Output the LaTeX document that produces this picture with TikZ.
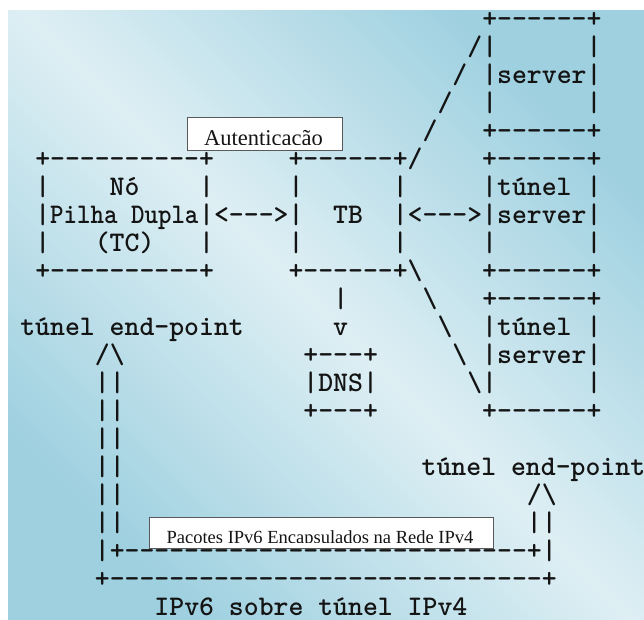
\documentclass[tikz,border=0pt]{standalone}
\usepackage{fontspec}
\newfontfamily\lblfont{Liberation Serif}
% bold typewriter face for the ASCII drawing
\newcommand\asc{\fontfamily{lmtt}\bfseries\fontsize{28.38}{28}\selectfont}
% repeat a group of tokens n times
\newcommand\rep[2]{\ifnum#1>0 #2\expandafter\rep\expandafter{\the\numexpr#1-1\relax}{#2}\fi}
\newcommand\hy[1]{\rep{#1}{-{}}}
\newcommand\sk[1]{\rep{#1}{~}}
\newcommand\bs{\textbackslash}
\definecolor{bgdark}{RGB}{158,208,224}
\definecolor{bglight}{RGB}{222,239,244}
\definecolor{ink}{RGB}{20,20,20}

\begin{document}
\begin{tikzpicture}[x=1pt,y=-1pt,
  declare function={cl(\c)=35.25+14.9*\c; rw(\r)=27+28*\r;},
  asc/.style={font=\asc, text=ink, inner sep=0pt, outer sep=0pt, anchor=base west},
  lblbox/.style={fill=white, draw=black!65, line width=0.8pt, inner sep=0pt, anchor=north west},
  lbltext/.style={text=ink, inner sep=0pt, anchor=base}]

\useasboundingbox (0,0) rectangle (644,619);
\fill[white] (0,0) rectangle (644,619);
\shade[top color=bgdark, bottom color=bgdark, middle color=bglight, shading angle=-45]
  (8,10) rectangle (644,619);

% upper tunnel server
\node[asc] (r0) at ({cl(30)},{rw(0)}) {+\hy6+};
\node[asc] (r1) at ({cl(29)},{rw(1)}) {/|\sk6|};
\node[asc] (r2) at ({cl(28)},{rw(2)}) {/~|server|};
\node[asc] (r3) at ({cl(27)},{rw(3)}) {/\sk2|\sk6|};
\node[asc] (r4) at ({cl(26)},{rw(4)}) {/\sk3+\hy6+};

% dual stack node, tunnel broker and middle tunnel server
\node[asc] (r5) at ({cl(0)},{rw(5)}) {+\hy{10}+\sk5+\hy6+/\sk4+\hy6+};
\node[asc] (r6) at ({cl(0)},{rw(6)}) {|\sk4Nó\sk4|\sk5|\sk6|\sk5|túnel~|};
\node[asc] (r7a) at ({cl(0)},{rw(7)}) {|};
\node[asc] (r7b) at ({cl(1)},{rw(7)}) {\scalebox{0.905}[1]{Pilha~Dupla}};
\node[asc] (r7c) at ({cl(11)},{rw(7)}) {|<\hy3>|\sk2TB\sk2|<\hy3>|server|};
\node[asc] (r8) at ({cl(0)},{rw(8)}) {|\sk3(TC)\sk3|\sk5|\sk6|\sk5|\sk6|};
\node[asc] (r9) at ({cl(0)},{rw(9)}) {+\hy{10}+\sk5+\hy6+\bs\sk4+\hy6+};

% DNS and lower tunnel server
\node[asc] (r10) at ({cl(20)},{rw(10)}) {|\sk5\bs\sk3+\hy6+};
\node[asc] (r11) at ({cl(-1)},{rw(11)}) {túnel~end-point\sk6v\sk6\bs\sk2|túnel~|};
\node[asc] (r12) at ({cl(4)},{rw(12)}) {/\bs\sk{12}+\hy3+\sk5\bs~|server|};
\node[asc] (r13) at ({cl(4)},{rw(13)}) {||\sk{12}|DNS|\sk6\bs|\sk6|};
\node[asc] (r14) at ({cl(4)},{rw(14)}) {||\sk{12}+\hy3+\sk7+\hy6+};

% the tunnel itself
\node[asc] (r15) at ({cl(4)},{rw(15)}) {||};
\node[asc] (r16a) at ({cl(4)},{rw(16)}) {||};
\node[asc] (r16b) at ({cl(26)-1},{rw(16)}) {túnel~end-point};
\node[asc] (r17a) at ({cl(4)},{rw(17)}) {||};
\node[asc] (r17b) at ({cl(33)},{rw(17)}) {/\bs};
\node[asc] (r18a) at ({cl(4)},{rw(18)}) {||};
\node[asc] (r18b) at ({cl(33)},{rw(18)}) {||};
\node[asc] (r19) at ({cl(4)},{rw(19)}) {|+\hy{27}+|};
\node[asc] (r20) at ({cl(4)},{rw(20)}) {+\hy{29}+};
\node[asc] (r21) at ({cl(8)},{rw(21)}) {IPv6~sobre~túnel~IPv4};

% label boxes, their text cut off at the bottom
\node[lblbox, minimum width=155pt, minimum height=33pt] (auth) at (187,117) {};
\begin{scope}
  \clip (187,117) rectangle (342,144);
  \node[lbltext, font=\lblfont\fontsize{22.5}{22.5}\selectfont] (authtxt) at (263.5,145.5) {Autenticação};
\end{scope}
\node[lblbox, minimum width=344pt, minimum height=31pt] (pkt) at (149,517) {};
\begin{scope}
  \clip (149,517) rectangle (493,542);
  \node[lbltext, font=\lblfont\fontsize{18.5}{18.5}\selectfont] (pkttxt) at (320,543.5) {Pacotes IPv6 Encapsulados na Rede IPv4};
\end{scope}
\end{tikzpicture}
\end{document}
